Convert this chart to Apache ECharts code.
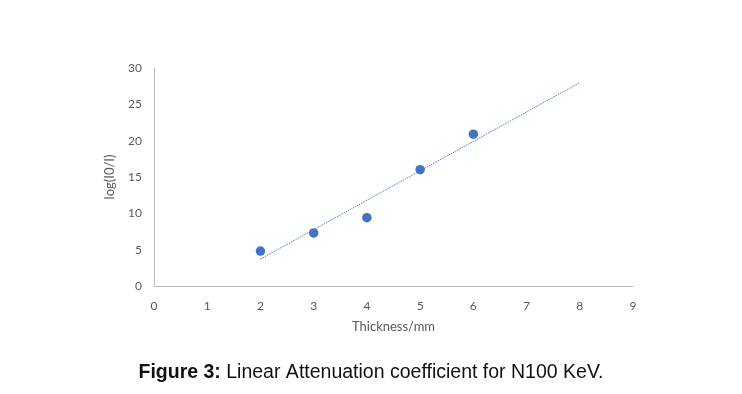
<!DOCTYPE html>
<html><head><meta charset="utf-8">
<script src="https://cdn.jsdelivr.net/npm/echarts@6/dist/echarts.min.js"></script>
<style>html,body{margin:0;padding:0;background:#fff}#c{width:742px;height:394px}</style>
</head><body><div id="c"></div>
<script>
const thickness = [2, 3, 4, 5, 6];
const logRatio = [4.8, 7.3, 9.4, 16.0, 20.9];
const trendX = [2, 8];
const trendY = [3.7, 28.0];
const xTicks = [0, 1, 2, 3, 4, 5, 6, 7, 8, 9];
const yTicks = [0, 5, 10, 15, 20, 25, 30];
const xTitle = 'Thickness/mm';
const yTitle = 'log(I0/I)';
const caption = ['Figure 3:', ' Linear Attenuation coefficient for N100 KeV.'];

const chart = echarts.init(document.getElementById('c'), null, {renderer: 'canvas'});
const tickFont = {color: '#595959', fontSize: 12, fontFamily: 'Lato'};
chart.setOption({
  animation: false,
  grid: {left: 154, right: 109, top: 68, bottom: 108},
  title: {
    text: '{b|' + caption[0] + '}{n|' + caption[1] + '}',
    left: 'center', top: 358,
    textStyle: {fontWeight: 'normal', rich: {
      b: {fontWeight: 'bold', fontSize: 19.5, fontFamily: 'Liberation Sans', color: '#111'},
      n: {fontWeight: 'normal', fontSize: 19.5, fontFamily: 'Liberation Sans', color: '#111'}
    }}
  },
  xAxis: {
    type: 'value', min: xTicks[0], max: xTicks[xTicks.length - 1], interval: 1,
    name: xTitle, nameLocation: 'middle', nameGap: 34,
    nameTextStyle: {color: '#595959', fontSize: 13, fontFamily: 'Lato'},
    axisLine: {show: true, lineStyle: {color: '#bfbfbf', width: 1}},
    axisTick: {show: false}, splitLine: {show: false},
    axisLabel: Object.assign({margin: 14}, tickFont)
  },
  yAxis: {
    type: 'value', min: yTicks[0], max: yTicks[yTicks.length - 1], interval: 5,
    name: yTitle, nameLocation: 'middle', nameGap: 38,
    nameTextStyle: {color: '#595959', fontSize: 13, fontFamily: 'Lato'},
    axisLine: {show: true, lineStyle: {color: '#bfbfbf', width: 1}},
    axisTick: {show: false}, splitLine: {show: false},
    axisLabel: Object.assign({margin: 12}, tickFont)
  },
  series: [
    {
      type: 'line', data: trendX.map((x, i) => [x, trendY[i]]),
      symbol: 'none', lineStyle: {color: '#4f81c7', width: 1, type: [1.5, 1]}, z: 1
    },
    {
      type: 'scatter', data: thickness.map((x, i) => [x, logRatio[i]]),
      symbolSize: 9.5, itemStyle: {color: '#4472c4', opacity: 1}, z: 2
    }
  ]
});
</script></body></html>
